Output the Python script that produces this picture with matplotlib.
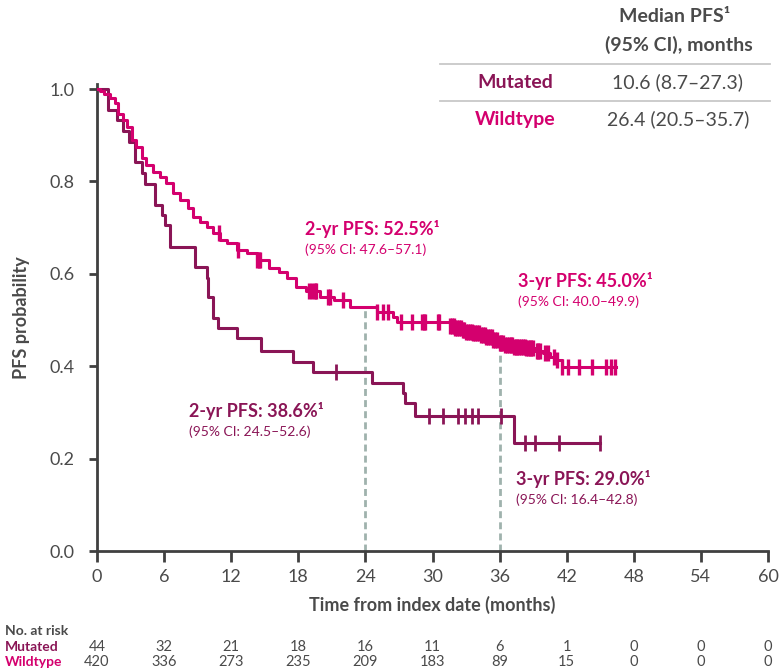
import matplotlib
matplotlib.use("Agg")
import matplotlib.pyplot as plt
from matplotlib.lines import Line2D

plt.rcParams['font.family'] = ['Lato', 'DejaVu Sans']

# ---------------- data ----------------
mut_times = [0, 1.0, 1.75, 2.35, 2.9, 3.4, 4.0, 4.3, 5.2, 5.8, 6.1, 6.5, 8.75, 9.8, 9.95,
             10.4, 10.8, 12.5, 14.7, 17.5, 19.3, 24.6, 27.4, 27.55, 28.4, 37.3, 45.0]
mut_surv = [1.0, 0.955, 0.932, 0.909, 0.886, 0.841, 0.818, 0.795, 0.75, 0.727, 0.705, 0.659,
            0.614, 0.591, 0.55, 0.504, 0.482, 0.46, 0.434, 0.41, 0.387, 0.364, 0.341, 0.32,
            0.292, 0.233, 0.233]
mut_censor = [21.4, 29.7, 30.9, 32.3, 32.9, 33.5, 34.1, 36.1, 38.3, 39.2, 41.3, 45.0]

wt_times = [0, 0.3, 0.6, 1.2, 1.6, 1.9, 2.35, 2.65, 3.1, 3.5, 4.0, 4.4, 5.0, 5.6, 6.2, 6.8,
            7.4, 8.1, 8.6, 9.2, 9.8, 10.4, 11.0, 11.6, 12.5, 13.4, 14.3, 15.4, 16.3, 17.0,
            17.8, 18.7, 19.9, 21.2, 22.6, 25.0, 26.5, 26.8, 31.6, 32.0, 32.6, 33.0, 33.6,
            34.2, 34.8, 35.4, 36.0, 36.4, 37.2, 38.4, 39.2, 39.9, 40.5, 41.0, 41.6, 46.4]
wt_surv = [1.0, 0.995, 0.99, 0.98, 0.969, 0.947, 0.933, 0.918, 0.89, 0.875, 0.85, 0.836,
           0.821, 0.81, 0.796, 0.774, 0.76, 0.742, 0.724, 0.713, 0.702, 0.688, 0.673, 0.666,
           0.652, 0.644, 0.63, 0.612, 0.603, 0.59, 0.572, 0.563, 0.55, 0.543, 0.529, 0.518,
           0.507, 0.496, 0.488, 0.482, 0.478, 0.475, 0.471, 0.468, 0.463, 0.457, 0.45, 0.446,
           0.442, 0.439, 0.434, 0.428, 0.42, 0.413, 0.399, 0.399]
wt_censor = [10.9, 12.6, 14.3, 14.45, 14.6, 19.0, 19.2, 19.5, 19.6, 20.7, 20.8, 22.0, 25.0,
             25.6, 26.0, 27.2, 28.2, 29.1, 29.2, 29.3, 30.5, 30.6, 31.6, 31.75, 31.9, 32.05,
             32.2, 32.4, 32.55, 32.7, 32.85, 33.0, 33.2, 33.35, 33.5, 33.65, 33.8, 34.0, 34.15,
             34.3, 34.5, 34.65, 34.8, 35.0, 35.15, 35.3, 35.45, 35.6, 35.8, 36.0, 36.15, 36.3,
             36.5, 36.65, 36.8, 37.0, 37.15, 37.3, 37.45, 37.6, 37.75, 37.9, 38.1, 38.25,
             38.4, 38.55, 38.7, 38.85, 39.0, 39.3, 39.45, 39.6, 40.1, 40.3, 40.9, 41.1, 41.6,
             42.1, 43.1, 44.3, 45.5, 46.0, 46.3]

xticks = [0, 6, 12, 18, 24, 30, 36, 42, 48, 54, 60]
yticks = [0.0, 0.2, 0.4, 0.6, 0.8, 1.0]
risk_mut = [44, 32, 21, 18, 16, 11, 6, 1, 0, 0, 0]
risk_wt = [420, 336, 273, 235, 209, 183, 89, 15, 0, 0, 0]

landmarks = [24, 36]
landmark_wt = [0.525, 0.45]

table_rows = ["Mutated", "Wildtype"]
table_vals = ["10.6 (8.7\u201327.3)", "26.4 (20.5\u201335.7)"]

# ---------------- style ----------------
C_MUT = "#8A1556"
C_WT = "#D4006E"
C_AX = "#404040"
C_TXT = "#4A4A4A"
C_DASH = "#9FB2AD"

W, H = 781, 668
fig = plt.figure(figsize=(W / 100, H / 100), dpi=100)

def fx(px):
    return px / W

def fy(py):
    return 1 - py / H

ax = fig.add_axes([fx(97), fy(551), fx(768) - fx(97), (551 - 84.4) / H])
ax.set_xlim(0, 60)
ax.set_ylim(0, 1.01)

for x, yv in zip(landmarks, landmark_wt):
    ax.plot([x, x], [0, yv], color=C_DASH, lw=2, ls=(0, (2.5, 1.5)), zorder=1)

ax.step(mut_times, mut_surv, where='post', color=C_MUT, lw=2.2, zorder=3)
ax.step(wt_times, wt_surv, where='post', color=C_WT, lw=2.2, zorder=4)

def surv_at(times, surv, t):
    v = surv[0]
    for ti, si in zip(times, surv):
        if ti <= t:
            v = si
    return v

ax.plot(mut_censor, [surv_at(mut_times, mut_surv, t) for t in mut_censor], ls='none',
        marker='|', ms=12, mew=2.0, color=C_MUT, zorder=3)
ax.plot(wt_censor, [surv_at(wt_times, wt_surv, t) for t in wt_censor], ls='none',
        marker='|', ms=12, mew=2.4, color=C_WT, zorder=4)

for s in ['top', 'right']:
    ax.spines[s].set_visible(False)
for s in ['left', 'bottom']:
    ax.spines[s].set_color(C_AX)
    ax.spines[s].set_linewidth(2)
ax.set_xticks(xticks)
ax.set_yticks(yticks)
ax.set_yticklabels([f"{v:.1f}" for v in yticks])
ax.tick_params(axis='x', length=8, width=2, color=C_AX, labelsize=13, labelcolor=C_TXT, pad=5)
ax.tick_params(axis='y', length=6, width=2, color=C_AX, labelsize=13, labelcolor=C_TXT, pad=10)
ax.set_xlabel("Time from index date (months)", fontsize=13, fontweight='bold', color=C_TXT, labelpad=8)
ax.set_ylabel("PFS probability", fontsize=13, fontweight='bold', color=C_TXT, labelpad=14)

# annotations
def annot(px, py, big, small, color):
    fig.text(fx(px), fy(py), big, fontsize=13, fontweight='bold', color=color, va='center', ha='left')
    fig.text(fx(px), fy(py + 21), small, fontsize=10, color=color, va='center', ha='left')

annot(305, 229, "2-yr PFS: 52.5%\u00b9", "(95% CI: 47.6\u201357.1)", C_WT)
annot(518, 281, "3-yr PFS: 45.0%\u00b9", "(95% CI: 40.0\u201349.9)", C_WT)
annot(189, 411, "2-yr PFS: 38.6%\u00b9", "(95% CI: 24.5\u201352.6)", C_MUT)
annot(516, 479, "3-yr PFS: 29.0%\u00b9", "(95% CI: 16.4\u201342.8)", C_MUT)

# median table
fig.text(fx(675), fy(16), "Median PFS\u00b9", fontsize=14, fontweight='bold', color=C_TXT, ha='center', va='center')
fig.text(fx(679), fy(45), "(95% CI), months", fontsize=14, fontweight='bold', color=C_TXT, ha='center', va='center')
for py in [64, 101]:
    fig.add_artist(Line2D([fx(440), fx(770)], [fy(py), fy(py)], color="#C8C8C8", lw=1.3))
for py, lab, val, col in zip([82, 119], table_rows, table_vals, [C_MUT, C_WT]):
    fig.text(fx(515), fy(py), lab, fontsize=14, fontweight='bold', color=col, ha='center', va='center')
    fig.text(fx(678), fy(py), val, fontsize=14, color=C_TXT, ha='center', va='center')

# risk table
fig.text(fx(5), fy(631), "No. at risk", fontsize=10, fontweight='bold', color=C_TXT, ha='left', va='center')
fig.text(fx(5), fy(647), "Mutated", fontsize=10, fontweight='bold', color=C_MUT, ha='left', va='center')
fig.text(fx(5), fy(662), "Wildtype", fontsize=10, fontweight='bold', color=C_WT, ha='left', va='center')
for xt, m, w in zip(xticks, risk_mut, risk_wt):
    xd = ax.transData.transform((xt, 0))[0]
    xf = fig.transFigure.inverted().transform((xd, 0))[0]
    fig.text(xf, fy(647), str(m), fontsize=10.5, color=C_TXT, ha='center', va='center')
    fig.text(xf, fy(662), str(w), fontsize=10.5, color=C_TXT, ha='center', va='center')

fig.savefig("out.png", dpi=100)
